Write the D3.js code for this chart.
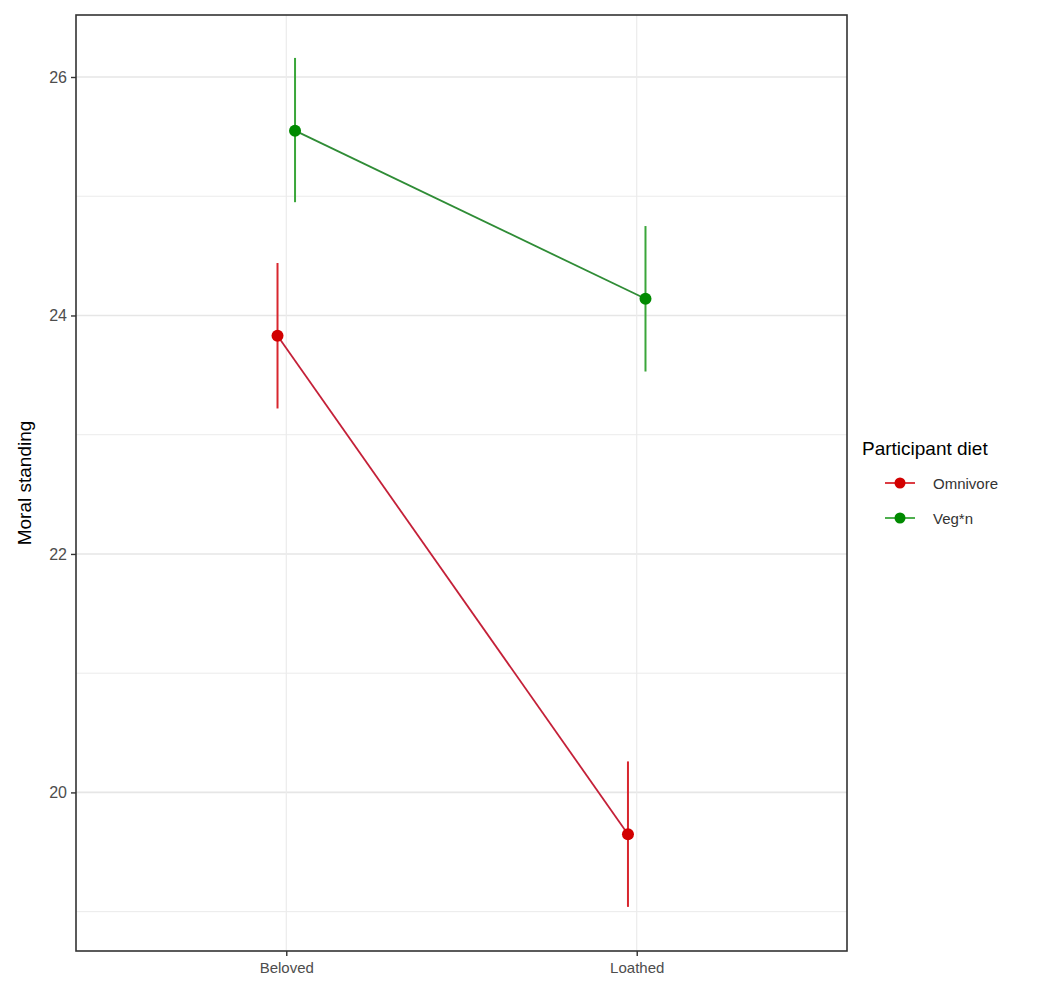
<!DOCTYPE html>
<html>
<head>
<meta charset="utf-8">
<script src="https://cdn.jsdelivr.net/npm/d3@7"></script>
<style>
  body { margin: 0; background: #fff; }
  svg { font-family: "Liberation Sans", Arial, sans-serif; }
</style>
</head>
<body>
<div id="chart"></div>
<script>
// data
var conditions = ["Beloved", "Loathed"];
var diets = ["Omnivore", "Veg*n"];
var dietColors = ["#d20000", "#008a00"];
var lineColors = ["#c42038", "#2f8c36"];
var barColors = ["#d8262e", "#3aa63a"];
var omnivoreMean = [23.83, 19.65];
var omnivoreLow = [23.22, 19.04];
var omnivoreHigh = [24.44, 20.26];
var veganMean = [25.55, 24.14];
var veganLow = [24.95, 23.53];
var veganHigh = [26.16, 24.75];
var yTicks = [20, 22, 24, 26];
var yMinor = [19, 21, 23, 25];

var series = [
  { diet: diets[0], mean: omnivoreMean, low: omnivoreLow, high: omnivoreHigh, dodge: -0.025 },
  { diet: diets[1], mean: veganMean, low: veganLow, high: veganHigh, dodge: 0.025 }
];

var W = 1063, H = 992;
var panel = { left: 76, right: 847, top: 15, bottom: 951 };

var svg = d3.select("#chart").append("svg")
  .attr("width", W).attr("height", H);

var x = d3.scaleLinear().domain([0.4, 2.6]).range([panel.left, panel.right]);
var y = d3.scaleLinear().domain([18.67, 26.52]).range([panel.bottom, panel.top]);

// grid
var grid = svg.append("g");
grid.selectAll(".minor").data(yMinor).enter().append("line")
  .attr("x1", panel.left).attr("x2", panel.right)
  .attr("y1", function(d) { return y(d); }).attr("y2", function(d) { return y(d); })
  .attr("stroke", "#ebebeb").attr("stroke-width", 1);
grid.selectAll(".major").data(yTicks).enter().append("line")
  .attr("x1", panel.left).attr("x2", panel.right)
  .attr("y1", function(d) { return y(d); }).attr("y2", function(d) { return y(d); })
  .attr("stroke", "#e6e6e6").attr("stroke-width", 1.6);
grid.selectAll(".vmajor").data(conditions).enter().append("line")
  .attr("x1", function(d, i) { return x(i + 1); }).attr("x2", function(d, i) { return x(i + 1); })
  .attr("y1", panel.top).attr("y2", panel.bottom)
  .attr("stroke", "#ebebeb").attr("stroke-width", 1.2);

// axes
var yAxis = d3.axisLeft(y).tickValues(yTicks).tickSize(5).tickPadding(4);
var gy = svg.append("g").attr("transform", "translate(" + panel.left + ",0)").call(yAxis);
gy.select(".domain").remove();
gy.selectAll("line").attr("stroke", "#333").attr("stroke-width", 1.4);
gy.selectAll("text").attr("fill", "#4d4d4d").style("font-size", "16px");

var xAxis = d3.axisBottom(x).tickValues([1, 2])
  .tickFormat(function(d) { return conditions[d - 1]; }).tickSize(5).tickPadding(6);
var gx = svg.append("g").attr("transform", "translate(0," + panel.bottom + ")").call(xAxis);
gx.select(".domain").remove();
gx.selectAll("line").attr("stroke", "#333").attr("stroke-width", 1.4);
gx.selectAll("text").attr("fill", "#4d4d4d").style("font-size", "15px");

// panel border
svg.append("rect")
  .attr("x", panel.left).attr("y", panel.top)
  .attr("width", panel.right - panel.left).attr("height", panel.bottom - panel.top)
  .attr("fill", "none").attr("stroke", "#333").attr("stroke-width", 1.6);

// y title
svg.append("text")
  .attr("transform", "translate(31," + ((panel.top + panel.bottom) / 2) + ") rotate(-90)")
  .attr("text-anchor", "middle")
  .style("font-size", "19px").attr("fill", "#000")
  .text("Moral standing");

// series
series.forEach(function(s, k) {
  var pts = s.mean.map(function(m, i) {
    return { x: i + 1 + s.dodge, m: m, lo: s.low[i], hi: s.high[i] };
  });
  var g = svg.append("g");

  g.selectAll(".bar").data(pts).enter().append("line")
    .attr("x1", function(d) { return x(d.x); }).attr("x2", function(d) { return x(d.x); })
    .attr("y1", function(d) { return y(d.lo); }).attr("y2", function(d) { return y(d.hi); })
    .attr("stroke", barColors[k]).attr("stroke-width", 2);

  g.append("path").datum(pts)
    .attr("d", d3.line().x(function(d) { return x(d.x); }).y(function(d) { return y(d.m); }))
    .attr("fill", "none").attr("stroke", lineColors[k]).attr("stroke-width", 1.8);

  g.selectAll(".pt").data(pts).enter().append("circle")
    .attr("cx", function(d) { return x(d.x); }).attr("cy", function(d) { return y(d.m); })
    .attr("r", 6).attr("fill", dietColors[k]);
});

// legend
var legend = svg.append("g").attr("transform", "translate(862,0)");
legend.append("text").attr("x", 0).attr("y", 455)
  .style("font-size", "19px").attr("fill", "#000").text("Participant diet");

var keys = legend.selectAll(".key").data(diets).enter().append("g")
  .attr("transform", function(d, i) { return "translate(0," + (483 + i * 35) + ")"; });
keys.append("line").attr("x1", 23).attr("x2", 53).attr("y1", 0).attr("y2", 0)
  .attr("stroke", function(d, i) { return barColors[i]; }).attr("stroke-width", 1.8);
keys.append("circle").attr("cx", 38).attr("cy", 0).attr("r", 5.5)
  .attr("fill", function(d, i) { return dietColors[i]; });
keys.append("text").attr("x", 71).attr("y", 5.5)
  .style("font-size", "15px").attr("fill", "#333").text(function(d) { return d; });
</script>
</body>
</html>
